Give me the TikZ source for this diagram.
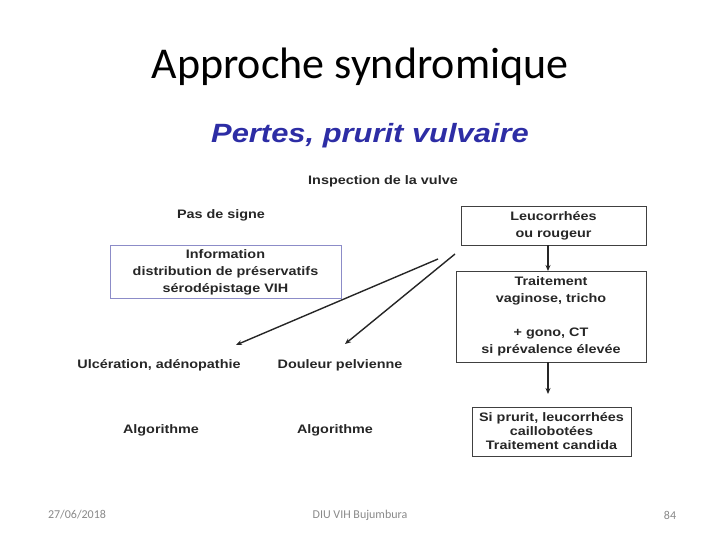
\documentclass[tikz,border=0pt]{standalone}
\usepackage{fontspec}
\setmainfont{Liberation Sans}
\newfontfamily\slidefont{Carlito}
\newfontfamily\dfont[FakeStretch=1.17]{Liberation Sans}
\usetikzlibrary{arrows.meta}
\definecolor{titleblue}{RGB}{45,45,165}
\definecolor{boxblue}{RGB}{140,140,200}
\definecolor{footgray}{RGB}{137,137,137}
\tikzset{
  dtext/.style={font=\dfont\bfseries\fontsize{12.3}{17}\selectfont, text=black!85, align=center, inner sep=0pt},
  dbox/.style={draw=black!75, line width=0.9pt},
  ibox/.style={draw=boxblue, line width=0.9pt},
  arr/.style={line width=1.4pt, draw=black!85, -{Stealth[length=6pt,width=5pt]}},
  foot/.style={font=\slidefont\fontsize{12}{14}\selectfont, text=footgray, inner sep=0pt}
}
\begin{document}
\begin{tikzpicture}[x=1pt,y=-1pt]
\useasboundingbox (0,0) rectangle (720,540);
% title
\node[font=\slidefont\fontsize{44}{48}\selectfont, inner sep=0pt] (title) at (360,67) {Approche syndromique};
\node[font=\dfont\bfseries\itshape\fontsize{26.4}{30}\selectfont, text=titleblue, inner sep=0pt] (pertes) at (370,136) {Pertes, prurit vulvaire};
% boxes
\draw[dbox] (461,206) rectangle (646,245);
\node[dtext] (leuc) at (553.5,225.5) {Leucorrhées\\ou rougeur};
\draw[ibox] (110,245) rectangle (341,298);
\node[dtext] (info) at (225.5,272) {Information\\distribution de préservatifs\\sérodépistage VIH};
\draw[dbox] (456,271) rectangle (646,362);
\node[dtext] (trait) at (551,316) {Traitement\\vaginose, tricho\\\mbox{}\\+ gono, CT\\si prévalence élevée};
\draw[dbox] (472,407) rectangle (631,456);
\node[dtext, font=\dfont\bfseries\fontsize{12.3}{14}\selectfont] (cand) at (551.5,431.5) {Si prurit, leucorrhées\\caillobotées\\Traitement candida};
% plain texts
\node[dtext] (insp) at (383,181) {Inspection de la vulve};
\node[dtext] (pas) at (221,215) {Pas de signe};
\node[dtext] (ulc) at (159,365) {Ulcération, adénopathie};
\node[dtext] (doul) at (340,365) {Douleur pelvienne};
\node[dtext] (alg1) at (161,430) {Algorithme};
\node[dtext] (alg2) at (335,430) {Algorithme};
% connectors
\coordinate (a1s) at (548,245);
\coordinate (a1e) at (548,271);
\coordinate (a2s) at (548,362);
\coordinate (a2e) at (548,394);
\draw[arr] (a1s) -- (a1e);
\draw[arr] (a2s) -- (a2e);
\coordinate (d1s) at (438,259);
\coordinate (d1e) at (236,345);
\coordinate (d2s) at (455,254);
\coordinate (d2e) at (345,344);
\draw[arr] (d1s) -- (d1e);
\draw[arr] (d2s) -- (d2e);
% footer
\node[foot] (date) at (77,515) {27/06/2018};
\node[foot] (diu) at (360,515) {DIU VIH Bujumbura};
\node[foot] (num) at (670,515) {84};
\end{tikzpicture}
\end{document}
